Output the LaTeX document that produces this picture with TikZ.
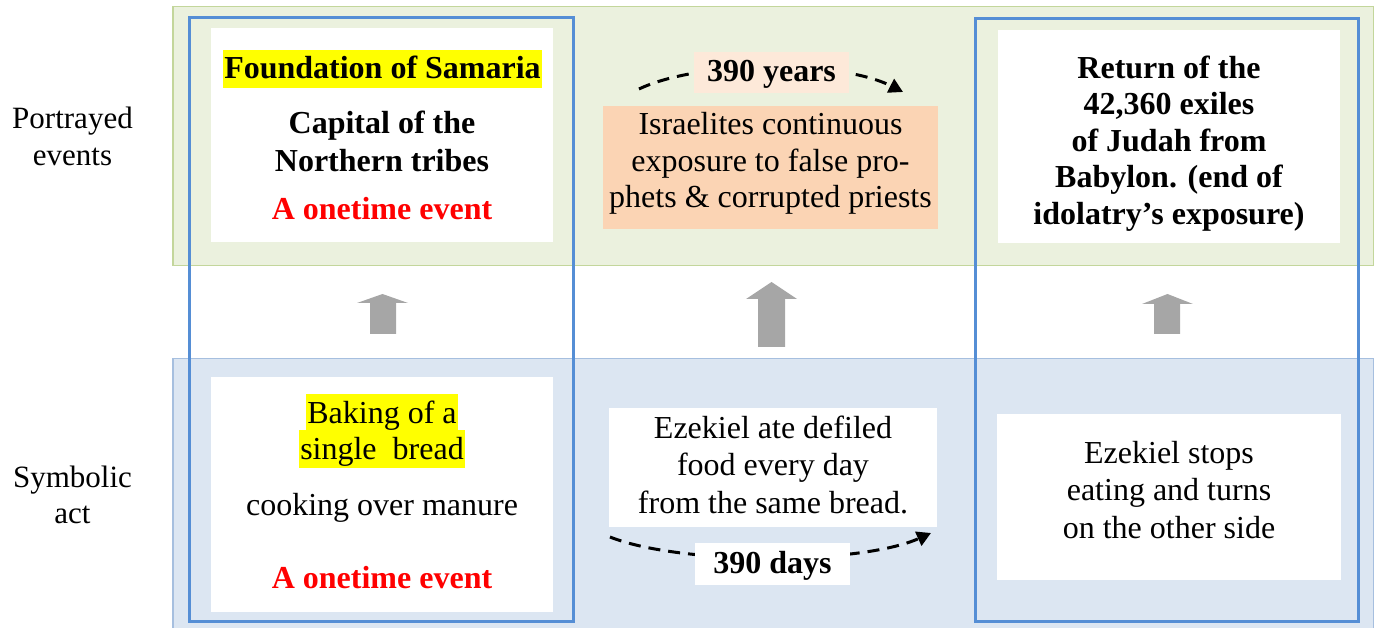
\documentclass[tikz,border=0pt]{standalone}
\usepackage{fontspec}
\setmainfont{Liberation Serif}
\usetikzlibrary{arrows.meta}
\definecolor{bandgreen}{HTML}{EBF1DE}
\definecolor{bandgreenb}{HTML}{C3D69B}
\definecolor{bandblue}{HTML}{DCE6F2}
\definecolor{bandblueb}{HTML}{A6BFDF}
\definecolor{framec}{HTML}{558ED5}
\definecolor{orangebox}{HTML}{FBD4B4}
\definecolor{peachbox}{HTML}{FDE9D9}
\definecolor{arrowgray}{HTML}{A6A6A6}
\definecolor{hlyellow}{HTML}{FFFF00}
\definecolor{evred}{HTML}{FF0000}
\tikzset{
  every node/.style={inner sep=0pt, font=\fontsize{32}{38}\selectfont},
  bandbox/.style={anchor=north west, line width=1.5pt},
  framebox/.style={draw=framec, line width=3pt},
  whitebox/.style={fill=white, anchor=north west},
  ln/.style={anchor=base, text=black},
  bln/.style={anchor=base, text=black, font=\fontsize{32}{38}\selectfont\bfseries},
  redln/.style={anchor=base, text=evred, font=\fontsize{32}{38}\selectfont\bfseries},
  sideln/.style={anchor=base, text=black, font=\fontsize{31}{37}\selectfont},
  hl/.style={fill=hlyellow, inner xsep=1pt, text height=29pt, text depth=9pt},
  blockarrow/.style={fill=arrowgray},
  dasharrow/.style={draw=black, line width=3pt, dash pattern=on 12pt off 8pt, -{Triangle[length=14pt,width=15pt]}},
}
\begin{document}
\begin{tikzpicture}[x=1pt,y=-1pt]
\useasboundingbox (0,0) rectangle (1374,628);
% bands
\node[bandbox, fill=bandgreen, draw=bandgreenb, minimum width=1201pt, minimum height=259pt] (gband) at (172,6) {};
\node[bandbox, fill=bandblue, draw=bandblueb, minimum width=1201pt, minimum height=275pt] (bband) at (172,358) {};
% column frames
\draw[framebox] (189,18) rectangle (573,621);
\draw[framebox] (975,19) rectangle (1358,621);
% boxes
\node[whitebox, minimum width=342pt, minimum height=214pt] (tl) at (211,28) {};
\node[whitebox, fill=orangebox, minimum width=335pt, minimum height=123pt] (tm) at (603,106) {};
\node[whitebox, minimum width=342pt, minimum height=213pt] (tr) at (998,30) {};
\node[whitebox, minimum width=342pt, minimum height=235pt] (bl) at (211,377) {};
\node[whitebox, minimum width=328pt, minimum height=119pt] (bm) at (609,408) {};
\node[whitebox, minimum width=344pt, minimum height=166pt] (br) at (997,414) {};
% side labels
\node[sideln] (pe1) at (72.5,129) {Portrayed};
\node[sideln] (pe2) at (72.5,166) {events};
\node[sideln] (sa1) at (72.5,487) {Symbolic};
\node[sideln] (sa2) at (72.5,523) {act};
% top-left
\node[bln, hl] (tl1) at (382.5,79) {Foundation of Samaria};
\node[bln] (tl2) at (382,134) {Capital of the};
\node[bln] (tl3) at (382,172) {Northern tribes};
\node[redln] (tl4) at (382,220) {A onetime event};
% top-middle
\coordinate (ya) at (639,89);
\coordinate (yb) at (903,92);
\draw[dasharrow] (ya) .. controls (700,60) and (840,60) .. (yb);
\node[bln, fill=peachbox, minimum width=155pt, text height=30pt, text depth=11pt] (years) at (771.5,82) {390 years};
\node[ln] (tm1) at (770.5,135) {Israelites continuous};
\node[ln] (tm2) at (770.5,172) {exposure to false pro-};
\node[ln] (tm3) at (770.5,208) {phets \& corrupted priests};
% top-right
\node[bln] (tr1) at (1169,79) {Return of the};
\node[bln] (tr2) at (1169,115) {42,360 exiles};
\node[bln] (tr3) at (1169,152) {of Judah from};
\node[bln] (tr4) at (1169,188) {Babylon. (end of};
\node[bln] (tr5) at (1169,225) {idolatry’s exposure)};
% block arrows
\fill[blockarrow] (370,334) -- (370,303) -- (357,303) -- (382.5,294) -- (408,303) -- (396,303) -- (396,334) -- cycle;
\fill[blockarrow] (758,347) -- (758,299) -- (746,299) -- (771.5,282) -- (797,299) -- (785,299) -- (785,347) -- cycle;
\fill[blockarrow] (1154,334) -- (1154,304) -- (1142,304) -- (1167.5,294) -- (1193,304) -- (1180,304) -- (1180,334) -- cycle;
% bottom-left
\node[ln, hl] (bl1) at (382,423) {Baking of a};
\node[ln, hl] (bl2) at (382,459) {single\ \ bread};
\node[ln] (bl3) at (382,515) {cooking over manure};
\node[redln] (bl4) at (382,588) {A onetime event};
% bottom-middle
\node[ln] (bm1) at (773,438) {Ezekiel ate defiled};
\node[ln] (bm2) at (773,475) {food every day};
\node[ln] (bm3) at (773,513) {from the same bread.};
\coordinate (da) at (610,537);
\coordinate (db) at (931,533);
\draw[dasharrow] (da) .. controls (680,565) and (860,565) .. (db);
\node[bln, fill=white, minimum width=155pt, text height=30pt, text depth=12pt] (days) at (772.5,573) {390 days};
% bottom-right
\node[ln] (br1) at (1169,463) {Ezekiel stops};
\node[ln] (br2) at (1169,500) {eating and turns};
\node[ln] (br3) at (1169,538) {on the other side};
\end{tikzpicture}
\end{document}
